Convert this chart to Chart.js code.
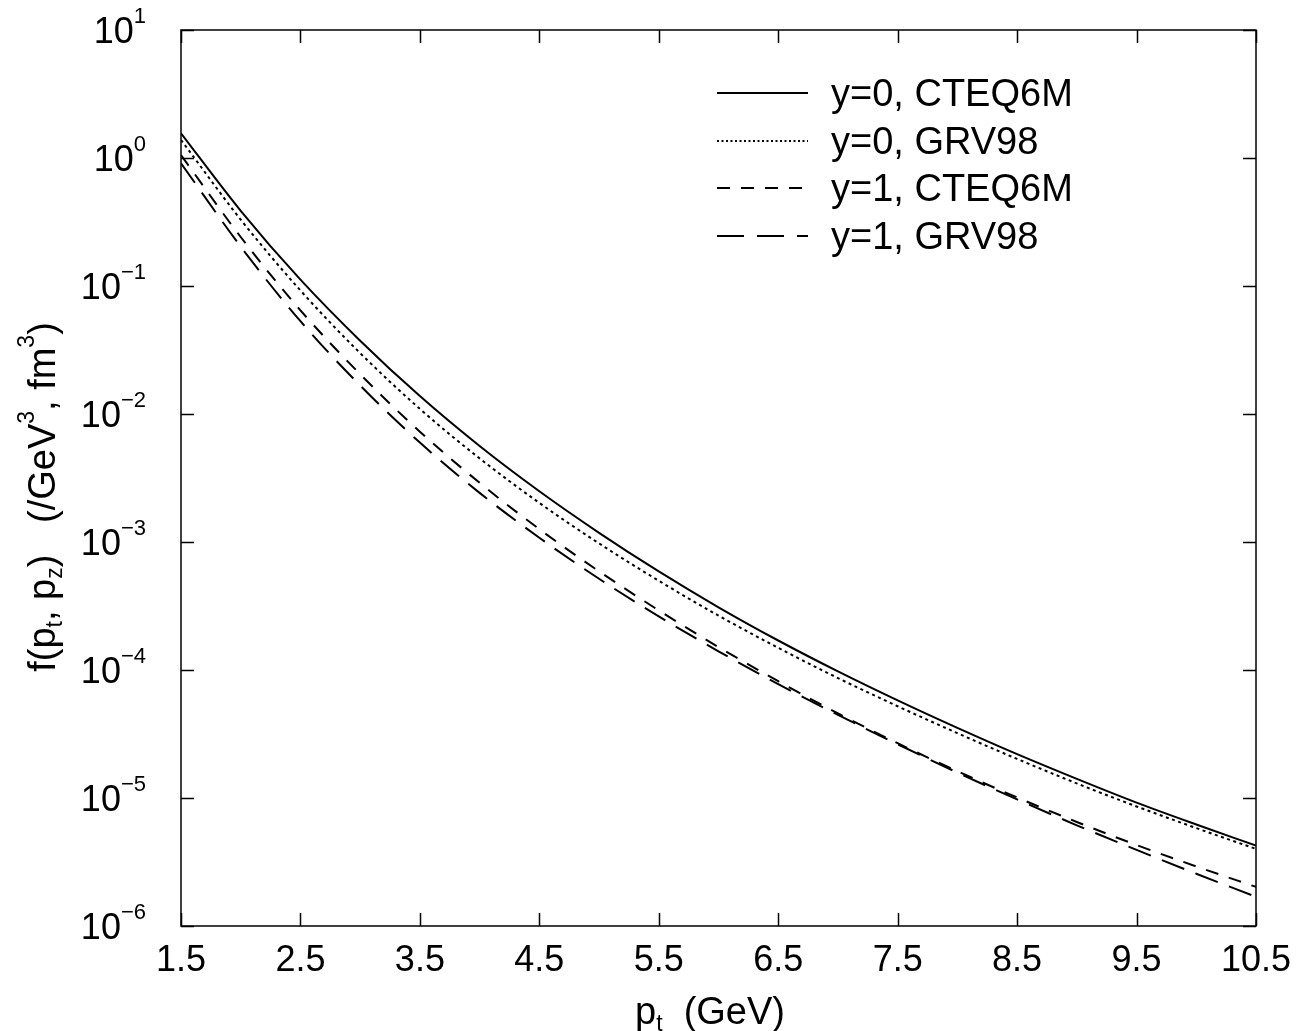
<!DOCTYPE html>
<html><head><meta charset="utf-8">
<script src="https://cdn.jsdelivr.net/npm/chart.js@4/dist/chart.umd.min.js"></script>
<style>html,body{margin:0;padding:0;background:#fff;overflow:hidden}#wrap{width:1307px;height:1031px}</style>
</head><body><div id="wrap"><canvas id="c" width="1307" height="1031"></canvas></div>
<script>
// ---- data ----
const ptValues   = [1.5, 2.0, 2.5, 3.0, 3.5, 4.0, 4.5, 5.0, 5.5, 6.0, 6.5, 7.0, 7.5, 8.0, 8.5, 9.0, 9.5, 10.0, 10.5];
const y0CTEQ6M   = [1.56, 0.387, 0.1122, 0.0374, 0.0138, 5.62e-3, 2.49e-3, 1.18e-3, 5.89e-4, 3.09e-4, 1.70e-4, 9.75e-5, 5.79e-5, 3.53e-5, 2.20e-5, 1.41e-5, 9.20e-6, 6.21e-6, 4.25e-6];
const y0GRV98    = [1.384, 0.330, 0.0923, 0.0299, 0.01096, 4.50e-3, 2.02e-3, 9.75e-4, 4.98e-4, 2.66e-4, 1.49e-4, 8.65e-5, 5.21e-5, 3.21e-5, 2.02e-5, 1.30e-5, 8.59e-6, 5.82e-6, 4.00e-6];
const y1CTEQ6M   = [1.054, 0.2415, 0.0646, 0.02046, 7.28e-3, 2.90e-3, 1.26e-3, 5.90e-4, 2.92e-4, 1.51e-4, 8.17e-5, 4.58e-5, 2.68e-5, 1.62e-5, 1.01e-5, 6.50e-6, 4.29e-6, 2.92e-6, 2.02e-6];
const y1GRV98    = [0.910, 0.203, 0.0531, 0.01671, 5.98e-3, 2.42e-3, 1.08e-3, 5.16e-4, 2.62e-4, 1.40e-4, 7.76e-5, 4.46e-5, 2.63e-5, 1.58e-5, 9.75e-6, 6.12e-6, 3.93e-6, 2.56e-6, 1.69e-6];
const seriesLabels = ['y=0, CTEQ6M', 'y=0, GRV98', 'y=1, CTEQ6M', 'y=1, GRV98'];
const xTickValues = [1.5, 2.5, 3.5, 4.5, 5.5, 6.5, 7.5, 8.5, 9.5, 10.5];
const xTickLabels = ['1.5', '2.5', '3.5', '4.5', '5.5', '6.5', '7.5', '8.5', '9.5', '10.5'];
const yTickExponents = [-6, -5, -4, -3, -2, -1, 0, 1];

// ---- styling ----
const FONT = "'Liberation Sans', Arial, Helvetica, sans-serif";
const dashes = [[], [3, 3.5], [13, 11], [24, 12]];
const legendDashes = [[], [2, 2.5], [13, 11], [27, 13]];

function pts(arr) { return ptValues.map((x, i) => ({ x: x, y: arr[i] })); }
const allSeries = [y0CTEQ6M, y0GRV98, y1CTEQ6M, y1GRV98];
const datasets = allSeries.map((s, i) => ({
  label: seriesLabels[i],
  data: pts(s),
  borderColor: '#000',
  borderWidth: 2,
  borderDash: dashes[i],
  pointRadius: 0,
  fill: false,
  cubicInterpolationMode: 'monotone'
}));

function supText(ctx, x, y, parts, align) {
  let w = 0;
  parts.forEach(p => { ctx.font = p.size + 'px ' + FONT; w += ctx.measureText(p.t).width; });
  let cx = align === 'right' ? x - w : (align === 'center' ? x - w / 2 : x);
  parts.forEach(p => {
    ctx.font = p.size + 'px ' + FONT;
    ctx.textAlign = 'left';
    ctx.fillText(p.t, cx, y + (p.dy || 0));
    cx += ctx.measureText(p.t).width;
  });
}

const decor = {
  id: 'decor',
  afterDraw(chart) {
    const ctx = chart.ctx, a = chart.chartArea, xs = chart.scales.x, ys = chart.scales.y;
    ctx.save();
    ctx.strokeStyle = '#000';
    ctx.fillStyle = '#000';
    ctx.lineWidth = 1.5;
    ctx.setLineDash([]);
    ctx.strokeRect(a.left, a.top, a.right - a.left, a.bottom - a.top);
    const TL = 13;
    ctx.beginPath();
    xTickValues.forEach(v => {
      const px = Math.round(xs.getPixelForValue(v)) + 0.5;
      ctx.moveTo(px, a.bottom); ctx.lineTo(px, a.bottom - TL);
      ctx.moveTo(px, a.top); ctx.lineTo(px, a.top + TL);
    });
    yTickExponents.forEach(e => {
      const py = Math.round(ys.getPixelForValue(Math.pow(10, e))) + 0.5;
      ctx.moveTo(a.left, py); ctx.lineTo(a.left + TL, py);
      ctx.moveTo(a.right, py); ctx.lineTo(a.right - TL, py);
    });
    ctx.stroke();

    ctx.textBaseline = 'alphabetic';
    ctx.font = '36px ' + FONT;
    ctx.textAlign = 'center';
    xTickValues.forEach((v, i) => {
      ctx.fillText(xTickLabels[i], xs.getPixelForValue(v), 971);
    });
    yTickExponents.forEach(e => {
      const py = ys.getPixelForValue(Math.pow(10, e));
      const sup = (e < 0 ? '\u2212' : '') + Math.abs(e);
      supText(ctx, 146, py + 13, [{ t: '10', size: 36 }, { t: sup, size: 22, dy: -20 }], 'right');
    });

    // x title
    supText(ctx, 710, 1024,
      [{ t: 'p', size: 38 }, { t: 't', size: 23, dy: 7 }, { t: '  (GeV)', size: 38 }], 'center');

    // y title (rotated)
    ctx.save();
    ctx.translate(55, 497);
    ctx.rotate(-Math.PI / 2);
    supText(ctx, 0, 0, [
      { t: 'f(p', size: 38 }, { t: 't', size: 23, dy: 7 }, { t: ', p', size: 38 }, { t: 'z', size: 23, dy: 7 },
      { t: ')   (/GeV', size: 38 }, { t: '3', size: 23, dy: -21 }, { t: ', fm', size: 38 }, { t: '3', size: 23, dy: -21 },
      { t: ')', size: 38 }
    ], 'center');
    ctx.restore();

    // legend
    const rowsY = [93, 141, 188, 236];
    seriesLabels.forEach((lab, i) => {
      const y = rowsY[i];
      ctx.beginPath();
      ctx.lineWidth = 2;
      ctx.setLineDash(legendDashes[i]);
      ctx.moveTo(717, y); ctx.lineTo(808, y);
      ctx.stroke();
      ctx.setLineDash([]);
      ctx.font = '38px ' + FONT;
      ctx.textAlign = 'left';
      ctx.fillText(lab, 831, y + 13);
    });
    ctx.restore();
  }
};

new Chart(document.getElementById('c'), {
  type: 'line',
  data: { datasets: datasets },
  options: {
    responsive: false,
    animation: false,
    devicePixelRatio: 1,
    layout: { padding: { top: 30, right: 51, bottom: 0, left: 0 } },
    plugins: { legend: { display: false }, tooltip: { enabled: false } },
    scales: {
      x: {
        type: 'linear', position: 'bottom', min: 1.5, max: 10.5,
        ticks: { display: false }, grid: { display: false }, border: { display: false },
        afterFit: s => { s.height = 105; }
      },
      y: {
        type: 'logarithmic', position: 'left', min: 1e-6, max: 10,
        ticks: { display: false }, grid: { display: false }, border: { display: false },
        afterFit: s => { s.width = 181; }
      }
    }
  },
  plugins: [decor]
});
</script>
</body></html>
